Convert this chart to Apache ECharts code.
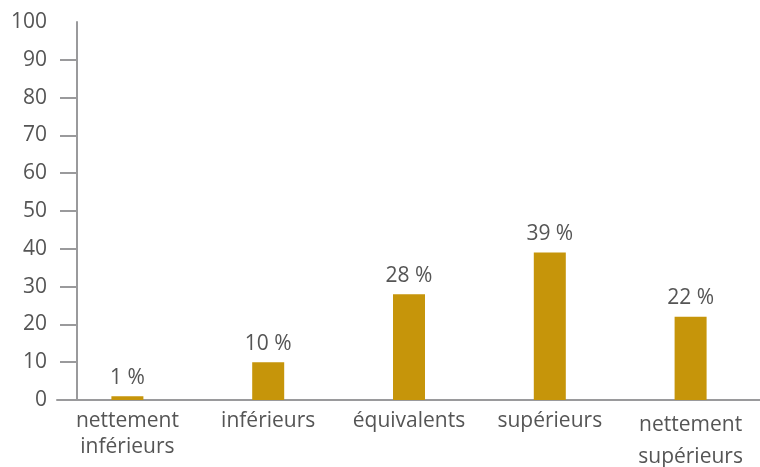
<!DOCTYPE html>
<html><head><meta charset="utf-8">
<script src="https://cdn.jsdelivr.net/npm/echarts@6/dist/echarts.min.js"></script>
<style>html,body{margin:0;padding:0;background:#fff}#c{width:760px;height:467px}</style>
</head><body><div id="c"></div>
<script>
const categories = ['nettement\ninférieurs', 'inférieurs', 'équivalents', 'supérieurs', 'nettement\nsupérieurs'];
const values = [1, 10, 28, 39, 22];
const yTicks = [0, 10, 20, 30, 40, 50, 60, 70, 80, 90, 100];

const chart = echarts.init(document.getElementById('c'), null, {renderer: 'canvas'});
const font = '"Open Sans", "Noto Sans", sans-serif';
const txt = '#555555';
chart.setOption({
  animation: false,
  grid: {left: 57, right: -1, top: 22, bottom: 67, containLabel: false, outerBoundsMode: 'none'},
  xAxis: {
    type: 'category',
    data: categories,
    axisLine: {lineStyle: {color: '#9a9a9c', width: 2}},
    axisTick: {show: false},
    axisLabel: {
      color: txt, fontFamily: font, fontSize: 21, lineHeight: 26, margin: 8, interval: 0,
      formatter: function (v, i) {
        if (i === 4) return '{b|' + v.replace('\n', '}\n{b|') + '}';
        return v;
      },
      rich: {b: {color: txt, fontFamily: font, fontSize: 21, lineHeight: 32, padding: [3, 0, 0, 0]}}
    }
  },
  yAxis: {
    type: 'value', min: yTicks[0], max: yTicks[yTicks.length - 1], interval: 10,
    offset: -20,
    splitLine: {show: false},
    axisLine: {show: true, lineStyle: {color: '#9a9a9c', width: 2}},
    axisTick: {show: true, length: 17, lineStyle: {color: '#9a9a9c', width: 2}, customValues: yTicks.slice(0, -1)},
    axisLabel: {color: txt, fontFamily: font, fontSize: 21, margin: 30, customValues: yTicks}
  },
  series: [{
    type: 'bar',
    data: values,
    barWidth: 32,
    itemStyle: {color: '#c6950a'},
    label: {show: true, position: 'top', distance: 8, color: txt, fontFamily: font, fontSize: 21,
      formatter: p => p.value + ' %'}
  }]
});
</script></body></html>
